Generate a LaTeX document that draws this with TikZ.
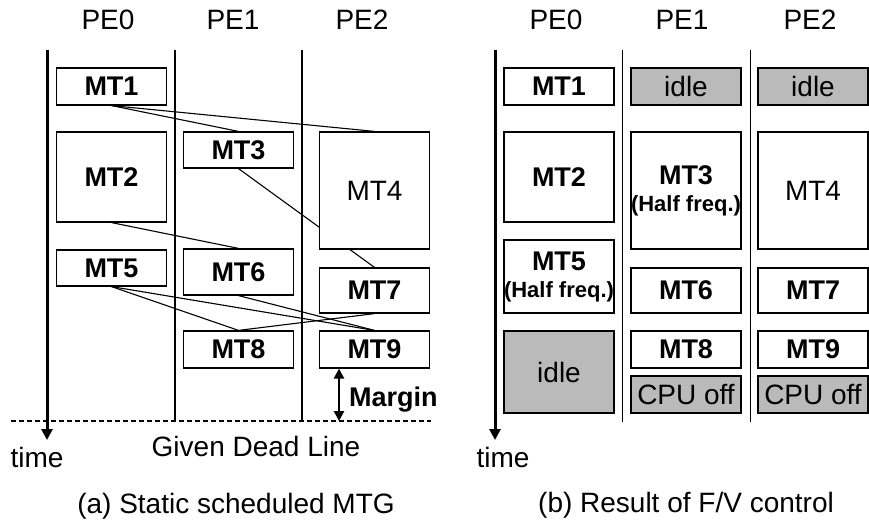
\documentclass[tikz,border=0pt]{standalone}
\usepackage{fontspec}
\setmainfont{Liberation Sans}
\usetikzlibrary{arrows.meta,backgrounds}
\definecolor{idlegray}{RGB}{186,186,186}
\tikzset{
  txt/.style={font=\fontsize{28}{30}\selectfont, inner sep=0pt},
  task/.style={draw=black, line width=1.2pt, fill=white, minimum width=110pt, inner sep=0pt, font=\fontsize{27}{30}\selectfont\bfseries},
  plain/.style={task, font=\fontsize{28}{30}\selectfont},
  idle/.style={plain, fill=idlegray},
  edge/.style={line width=1.1pt},
  sep/.style={line width=1.2pt},
  axis/.style={line width=3pt, -{Triangle[length=11pt,width=11pt]}},
}
\newcommand{\half}[1]{#1\\[-3pt]{\fontsize{22}{23}\selectfont(Half freq.)}}
\begin{document}
\begin{tikzpicture}[x=1pt, y=-1pt]
  \useasboundingbox (0,0) rectangle (869,521);

  % (a) static schedule
  \node[txt] (la0) at (108,20) {PE0};
  \node[txt] (la1) at (233,20) {PE1};
  \node[txt] (la2) at (362,20) {PE2};

  \node[task, minimum height=37pt] (a1) at (111.5,86.5) {MT1};
  \node[task, minimum height=90pt] (a2) at (111.5,177) {MT2};
  \node[task, minimum height=36pt] (a3) at (238.5,150) {MT3};
  \node[plain, minimum height=117pt] (a4) at (374.5,190.5) {MT4};
  \node[task, minimum height=36pt] (a5) at (111.5,268) {MT5};
  \node[task, minimum height=46pt] (a6) at (238.5,272) {MT6};
  \node[task, minimum height=45pt] (a7) at (374.5,290.5) {MT7};
  \node[task, minimum height=37pt] (a8) at (238.5,349.5) {MT8};
  \node[task, minimum height=37pt] (a9) at (374.5,349.5) {MT9};

  \coordinate (atop) at (47,50);
  \coordinate (abot) at (47,440);
  \coordinate (dlw) at (11,421);
  \coordinate (dle) at (431,421);
  \coordinate (mrg) at (339,421);

  \begin{scope}[on background layer]
    \draw[sep] (175,50) -- (175,422);
    \draw[sep] (302,50) -- (302,422);
    \draw[edge] (a1.south) -- (a3.north);
    \draw[edge] (a1.south) -- (a4.north);
    \draw[edge] (a3.south) -- (a7.north);
    \draw[edge] (a2.south) -- (a6.north);
    \draw[edge] (a5.south) -- (a8.north);
    \draw[edge] (a5.south) -- (a9.north);
    \draw[edge] (a6.south) -- (a9.north);
    \draw[edge] (a7.south) -- (a8.north);
  \end{scope}

  \draw[axis] (atop) -- (abot);
  \draw[line width=1.5pt, dash pattern=on 5pt off 3pt] (dlw) -- (dle);
  \draw[line width=2.5pt, {Triangle[length=10pt,width=10pt]}-{Triangle[length=10pt,width=10pt]}] (a9.south -| mrg) -- (mrg);
  \node[txt, anchor=base west, font=\fontsize{27}{30}\selectfont\bfseries] (margin) at (349,406) {Margin};
  \node[txt, anchor=base] (ta) at (37,467) {time};
  \node[txt, anchor=base] (dead) at (256,456) {Given Dead Line};
  \node[txt, anchor=base] (capa) at (236,513) {(a) Static scheduled MTG};

  % (b) after F/V control
  \node[txt] (lb0) at (556,20) {PE0};
  \node[txt] (lb1) at (682,20) {PE1};
  \node[txt] (lb2) at (810,20) {PE2};

  \node[task, minimum height=37pt] (b1) at (559,86.5) {MT1};
  \node[idle, minimum height=37pt] (i1) at (686,86.5) {idle};
  \node[idle, minimum height=37pt] (i2) at (813,86.5) {idle};
  \node[task, minimum height=90pt] (b2) at (559,177) {MT2};
  \node[task, minimum height=117pt, align=center] (b3) at (686,190.5) {\half{MT3}};
  \node[plain, minimum height=117pt] (b4) at (813,190.5) {MT4};
  \node[task, minimum height=73pt, align=center] (b5) at (559,276.5) {\half{MT5}};
  \node[task, minimum height=45pt] (b6) at (686,290.5) {MT6};
  \node[task, minimum height=45pt] (b7) at (813,290.5) {MT7};
  \node[idle, minimum height=82pt] (i0) at (559,372) {idle};
  \node[task, minimum height=37pt] (b8) at (686,349.5) {MT8};
  \node[task, minimum height=37pt] (b9) at (813,349.5) {MT9};
  \node[idle, minimum height=37pt] (off1) at (686,394.5) {CPU off};
  \node[idle, minimum height=37pt] (off2) at (813,394.5) {CPU off};

  \coordinate (btop) at (495,50);
  \coordinate (bbot) at (495,440);
  \draw[line width=1pt] (622,50) -- (622,422);
  \draw[line width=1pt] (750,50) -- (750,422);
  \draw[axis] (btop) -- (bbot);
  \node[txt, anchor=base] (tb) at (503,467) {time};
  \node[txt, anchor=base] (capb) at (686,512) {(b) Result of F/V control};
\end{tikzpicture}
\end{document}
